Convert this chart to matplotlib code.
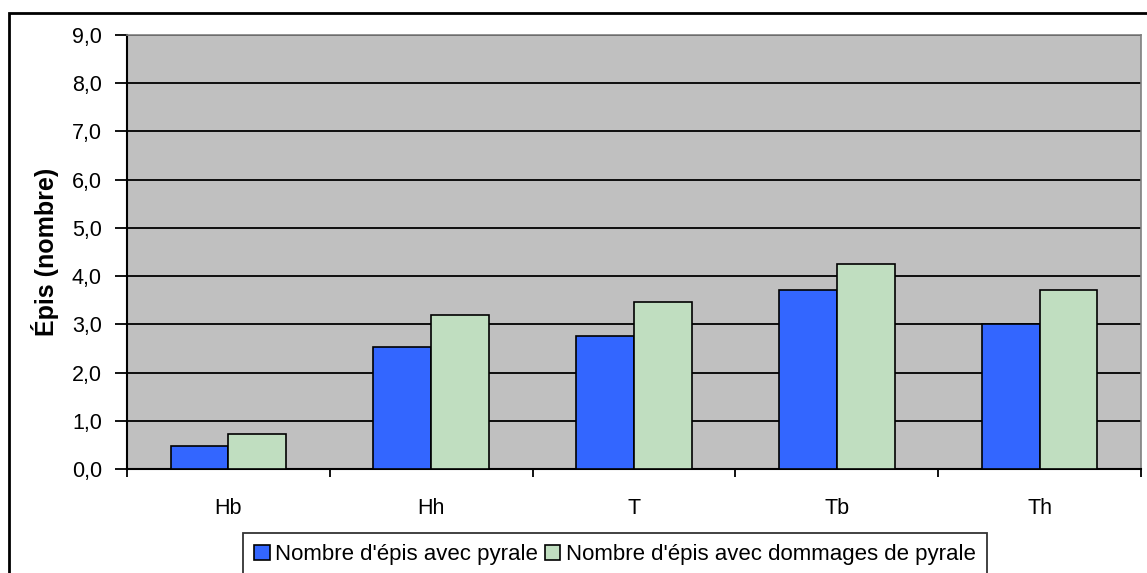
import numpy as np
import matplotlib.pyplot as plt
from matplotlib.patches import Rectangle
from matplotlib.ticker import FuncFormatter

# Data
categories = ["Hb", "Hh", "T", "Tb", "Th"]
epis_pyrale = [0.47, 2.52, 2.75, 3.71, 3.0]
epis_dommages = [0.72, 3.2, 3.47, 4.26, 3.71]
series_labels = ["Nombre d'épis avec pyrale", "Nombre d'épis avec dommages de pyrale"]

BLUE = "#3366FF"
GREEN = "#C0DEC0"
PLOT_BG = "#C0C0C0"

plt.rcParams["font.family"] = ["Liberation Sans", "DejaVu Sans"]
plt.rcParams["font.size"] = 15.5

fig = plt.figure(figsize=(11.47, 5.73), dpi=100)
ax = fig.add_axes([0.1107, 0.1815, 0.9948 - 0.1107, 0.9389 - 0.1815])
ax.set_facecolor(PLOT_BG)

x = np.arange(len(categories))
w = 0.285
ax.bar(x - w / 2, epis_pyrale, w, color=BLUE, edgecolor="black", linewidth=1.2,
       label=series_labels[0], zorder=3)
ax.bar(x + w / 2, epis_dommages, w, color=GREEN, edgecolor="black", linewidth=1.2,
       label=series_labels[1], zorder=3)

ax.set_xlim(-0.5, len(categories) - 0.5)
ax.set_ylim(0, 9)
ax.set_yticks(np.arange(0, 10, 1))
ax.yaxis.set_major_formatter(FuncFormatter(lambda v, p: f"{v:.1f}".replace(".", ",")))
ax.grid(axis="y", color="black", linewidth=1.3, zorder=1)
ax.set_axisbelow(True)

# category labels centred, tick marks between groups
ax.set_xticks(x)
ax.set_xticklabels(categories)
ax.set_xticks(np.arange(-0.5, len(categories), 1), minor=True)
ax.tick_params(axis="x", which="major", length=0, pad=21)
ax.tick_params(axis="x", which="minor", length=6, width=1.3, direction="out")
ax.tick_params(axis="y", length=9, width=1.3, direction="out", pad=9)

for side in ["left", "bottom"]:
    ax.spines[side].set_color("black")
    ax.spines[side].set_linewidth(1.5)
for side in ["top", "right"]:
    ax.spines[side].set_color("#808080")
    ax.spines[side].set_linewidth(1.2)

ax.set_ylabel("Épis (nombre)", fontweight="bold", fontsize=18, labelpad=9)

fig.legend(loc="upper left", bbox_to_anchor=(243 / 1147, 1 - 533 / 573),
           ncol=2, frameon=True, fancybox=False, edgecolor="black",
           handlelength=0.7, handleheight=0.7, handletextpad=0.25,
           columnspacing=0.3, borderpad=0.5, borderaxespad=0, fontsize=16)
fig.legends[0].get_frame().set_linewidth(1.3)

# outer chart border
fig.patches.append(Rectangle((9 / 1147, -0.2), 1.2, 1.2 - 13 / 573,
                             transform=fig.transFigure, fill=False,
                             edgecolor="black", linewidth=2, zorder=0))

fig.savefig("out.png", dpi=100)
